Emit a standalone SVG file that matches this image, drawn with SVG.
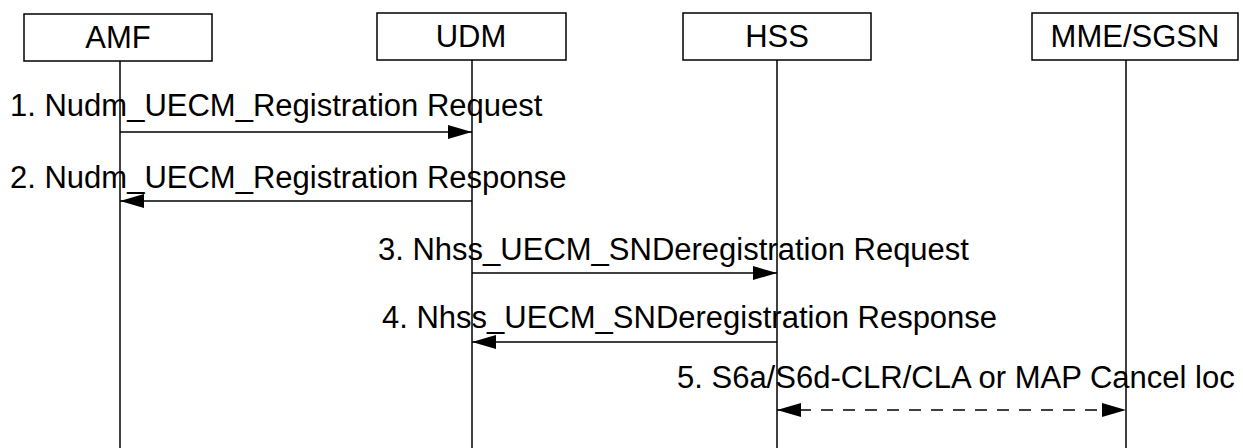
<svg xmlns="http://www.w3.org/2000/svg" width="1243" height="448" viewBox="0 0 1243 448">
<style>
.box{fill:#fff;stroke:#000;stroke-width:1.5}
.life{stroke:#000;stroke-width:1.5;fill:none}
.msg{stroke:#000;stroke-width:1.5;fill:none}
.dash{stroke-dasharray:12 10}
.t{font-family:"Liberation Sans",Arial,sans-serif;font-size:31px;fill:#000}
.c{text-anchor:middle}
</style>
<defs>
<marker id="ah" viewBox="0 0 24 14" refX="24" refY="7" markerWidth="24" markerHeight="14" markerUnits="userSpaceOnUse" orient="auto-start-reverse">
<path d="M0,0 L24,7 L0,14 Z" fill="#000"/>
</marker>
</defs>
<g id="amf">
<rect class="box" x="24" y="14" width="188" height="47"/>
<text class="t c" x="118" y="48">AMF</text>
<line class="life" x1="120" y1="61" x2="120" y2="448"/>
</g>
<g id="udm">
<rect class="box" x="377" y="13" width="189" height="47"/>
<text class="t c" x="471" y="47">UDM</text>
<line class="life" x1="472" y1="60" x2="472" y2="448"/>
</g>
<g id="hss">
<rect class="box" x="683" y="13" width="188" height="47"/>
<text class="t c" x="777" y="47">HSS</text>
<line class="life" x1="777" y1="60" x2="777" y2="448"/>
</g>
<g id="mme">
<rect class="box" x="1032" y="13" width="206" height="47"/>
<text class="t c" x="1135" y="47">MME/SGSN</text>
<line class="life" x1="1126" y1="60" x2="1126" y2="448"/>
</g>
<g id="connectors">
<line class="msg" x1="120" y1="132" x2="472" y2="132" marker-end="url(#ah)"/>
<line class="msg" x1="472" y1="201" x2="120" y2="201" marker-end="url(#ah)"/>
<line class="msg" x1="472" y1="273" x2="777" y2="273" marker-end="url(#ah)"/>
<line class="msg" x1="777" y1="342" x2="472" y2="342" marker-end="url(#ah)"/>
<line class="msg dash" x1="777" y1="410" x2="1126" y2="410" marker-start="url(#ah)" marker-end="url(#ah)"/>
</g>
<g id="labels">
<text class="t" x="10" y="116">1. Nudm_UECM_Registration Request</text>
<text class="t" x="10" y="188">2. Nudm_UECM_Registration Response</text>
<text class="t" x="378" y="260">3. Nhss_UECM_SNDeregistration Request</text>
<text class="t" x="382" y="328">4. Nhss_UECM_SNDeregistration Response</text>
<text class="t" x="677" y="388">5. S6a/S6d-CLR/CLA or MAP Cancel loc</text>
</g>
</svg>
